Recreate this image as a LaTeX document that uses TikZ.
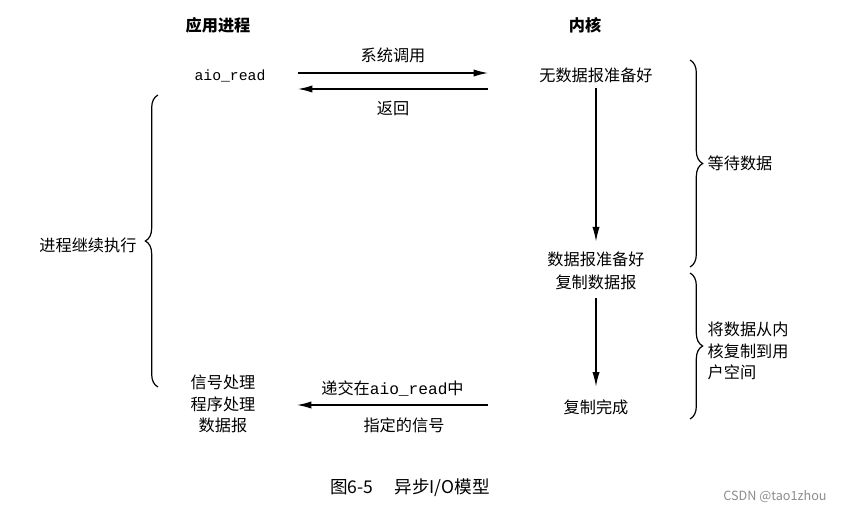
\documentclass[tikz,border=0pt]{standalone}
\usepackage{fontspec}
\setmainfont{Noto Sans CJK SC}
\setmonofont{Liberation Mono}
\usetikzlibrary{arrows.meta,decorations.pathreplacing}

\tikzset{
	arr/.style={line width=0.3mm, -{Latex[length=3.6mm,width=1.8mm]}},
	brc/.style={line width=0.3mm, decorate, decoration={brace,amplitude=9pt}},
	txt/.style={inner sep=1pt, font=\fontsize{11.5}{15.5}\selectfont},
	ttl/.style={inner sep=1pt, font=\fontsize{11.5}{15.5}\selectfont\bfseries},
	code/.style={inner sep=1pt, font=\fontsize{10.5}{13}\ttfamily},
}

\begin{document}
\begin{tikzpicture}[x=0.025cm, y=-0.025cm]
		%%%%% START %%%%%
		\useasboundingbox (0,0) rectangle (842,511);
		
		\node[ttl] (app) at (218,25) {应用进程};
		\node[ttl] (kern) at (585,25) {内核};
		
		\node[code] (aio) at (230,76) {aio\_read};
		\node[txt] (nodata) at (596,75) {无数据报准备好};
		\node[txt] (ready) at (596,259) {数据报准备好};
		\node[txt] (copy) at (596,282) {复制数据报};
		\node[txt] (done) at (596,407) {复制完成};
		
		\coordinate (callS) at (298,73);
		\coordinate (callE) at (488,73);
		\coordinate (retS) at (488,89);
		\coordinate (retE) at (298,89);
		\draw[arr] (callS) -- node[txt, above=6pt] (call) {系统调用} (callE);
		\draw[arr] (retS) -- node[txt, below=7pt] (ret) {返回} (retE);
		
		\draw[arr, shorten <=3pt, shorten >=6pt] (nodata) -- (ready);
		\draw[arr, shorten <=5pt, shorten >=8pt] (copy) -- (done);
		
		\node[txt, align=center] (handler) at (223,404) {信号处理\\程序处理\\数据报};
		\coordinate (sigS) at (488,405);
		\coordinate (sigE) at (297,405);
		\draw[arr] (sigS) -- node[txt, above=5pt] (deliv) {递交在\texttt{aio\_read}中} (sigE);
		\node[txt] (signame) at (404,425) {指定的信号};
		
		\draw[brc] (690,60) -- (690,267);
		\node[txt, anchor=west] (wait) at (706,163) {等待数据};
		\draw[brc] (690,273) -- (690,419);
		\node[txt, anchor=west, align=left] (copyout) at (706,351) {将数据从内\\核复制到用\\户空间};
		
		\draw[brc] (158,387) -- (158,95);
		\node[txt] (goon) at (88,245) {进程继续执行};
		
		\node[inner sep=1pt, font=\fontsize{12.5}{15}\selectfont] (caption) at (410,488) {图6-5\hspace{1.2em}异步I/O模型};
		\node[inner sep=1pt, font=\fontsize{9}{11}\selectfont, color=black!45] (mark) at (775,497) {CSDN @tao1zhou};
		
		%%%%% END %%%%%
\end{tikzpicture}
\end{document}
